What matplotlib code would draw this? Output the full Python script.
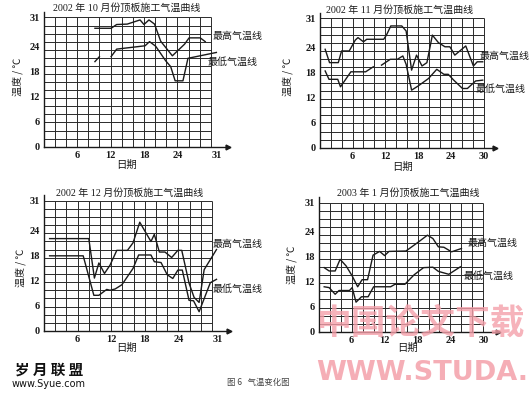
import numpy as np
import matplotlib
matplotlib.use("Agg")
import matplotlib.pyplot as plt

plt.rcParams['font.family'] = ['Liberation Serif', 'Noto Sans CJK SC', 'DejaVu Sans']

nan = np.nan

# ---- data (vertices) ----
titles = ["2002 年 10 月份顶板施工气温曲线", "2002 年 11 月份顶板施工气温曲线",
          "2002 年 12 月份顶板施工气温曲线", "2003 年 1 月份顶板施工气温曲线"]
x_ticks = [[6, 12, 18, 24, 31], [6, 12, 18, 24, 30], [6, 12, 18, 24, 31], [6, 12, 18, 24, 30]]
y_ticks = [0, 6, 12, 18, 24, 31]
label_max = "最高气温线"
label_min = "最低气温线"
y_label = "温度 / ℃"
x_label = "日期"

oct_max_day = [9.2, 12.1, 13.1, 15.0, 17.3, 18.0, 18.9, 19.9, 21.0, 23.1, 25.3, 26.1, 28.1, 29.0]
oct_max_val = [28.4, 28.4, 29.3, 29.4, 30.4, 29.3, 30.4, 29.4, 25.3, 21.8, 24.6, 26.1, 26.1, 25.2]
oct_min_day = [9.2, 10.0, 11.0, 12.1, 13.1, 18.2, 19.0, 20.1, 21.9, 22.8, 23.6, 25.0, 25.9, 31.0]
oct_min_val = [20.4, 21.6, nan, 21.6, 23.4, 24.2, 25.2, 24.1, 20.6, 19.2, 15.8, 15.8, 21.2, 22.6]

nov_max_day = [1.0, 1.8, 3.4, 4.0, 5.4, 6.5, 7.0, 8.0, 8.6, 11.7, 12.2, 13.0, 15.0, 15.8, 16.8,
               17.7, 18.7, 19.6, 20.6, 21.7, 22.9, 23.8, 24.7, 26.7, 28.1, 28.8, 29.8]
nov_max_val = [23.6, 20.4, 20.4, 23.2, 23.2, 25.8, 26.4, 25.4, 26.0, 26.0, 27.0, 29.2, 29.2, 28.0, 18.6,
               22.2, 19.6, 20.4, 27.0, 25.2, 24.2, 24.2, 22.2, 24.4, 19.6, 20.6, 20.6]
nov_min_day = [1.0, 1.7, 3.3, 3.8, 5.7, 8.4, 9.8, 10.5, 11.3, 12.9, 14.2, 15.2, 15.8, 16.8, 18.0,
               19.9, 21.4, 22.7, 23.5, 24.5, 26.1, 27.0, 28.5, 29.8]
nov_min_val = [18.4, 16.4, 16.4, 14.6, 18.2, 18.2, 19.4, nan, 19.8, 21.2, 21.2, 22.0, 20.0, 13.8, 14.8,
               16.6, 18.8, 17.6, 17.6, 16.2, 14.2, 14.2, 16.0, 16.2]

dec_max_day = [1.0, 8.0, 9.0, 9.8, 10.8, 11.8, 13.0, 14.9, 15.9, 17.1, 19.1, 19.7, 20.6, 21.6, 22.8,
               23.9, 24.6, 25.9, 26.8, 27.7, 28.6, 30.8]
dec_max_val = [22.0, 22.0, 12.6, 16.2, 13.7, 15.7, 19.2, 19.2, 21.0, 25.9, 21.3, 23.0, 18.8, 18.8, 17.5,
               19.2, 19.2, 11.4, 8.0, 6.8, 14.6, 19.4]
dec_min_day = [1.0, 7.0, 8.9, 9.8, 11.2, 11.8, 12.7, 13.9, 15.9, 16.9, 19.1, 19.7, 20.9, 22.0, 23.0,
               23.9, 24.7, 25.9, 26.7, 27.7, 29.7, 30.8]
dec_min_val = [17.9, 17.9, 8.5, 8.5, 9.9, 9.7, 10.0, 11.0, 14.9, 18.1, 18.1, 16.5, 16.3, 13.4, 12.5,
               14.5, 14.5, 7.3, 7.2, 4.6, 11.5, 12.3]

jan_max_day = [1.0, 1.9, 3.0, 3.9, 5.0, 6.1, 7.1, 7.9, 8.9, 9.9, 11.1, 12.0, 12.8, 15.9, 18.1, 19.8,
               20.8, 21.8, 22.8, 24.2, 26.0]
jan_max_val = [15.4, 14.6, 14.6, 17.4, 15.8, 13.4, 10.8, 12.5, 12.5, 18.4, 19.3, 18.3, 19.3, 19.4, 21.5, 23.2,
               22.4, 20.4, 20.3, 19.2, 20.0]
jan_min_day = [1.0, 1.9, 3.0, 3.7, 5.6, 6.1, 6.8, 7.8, 9.0, 10.0, 13.1, 13.9, 15.7, 17.4, 19.1, 20.8,
               21.8, 23.7, 25.8]
jan_min_val = [10.8, 10.6, 9.0, 9.9, 9.9, 10.6, 7.1, 8.4, 8.4, 10.8, 10.8, 11.4, 11.4, 13.7, 15.4, 15.5,
               14.5, 13.8, 15.6]

series = [(oct_max_day, oct_max_val, oct_min_day, oct_min_val),
          (nov_max_day, nov_max_val, nov_min_day, nov_min_val),
          (dec_max_day, dec_max_val, dec_min_day, dec_min_val),
          (jan_max_day, jan_max_val, jan_min_day, jan_min_val)]

# ---- layout (pixel geometry) ----
W, H = 530, 396
# x px of day 0, y px of temp 0, px per day, px per degree, x max
geo = [(43.7, 146.7, 5.57, 4.17, 33.0),
       (319.7, 147.7, 5.47, 4.17, 32.0),
       (44.0, 331.0, 5.60, 4.20, 33.0),
       (318.7, 331.7, 5.49, 4.16, 32.6)]
YMAX = 32.4
title_pos = [(127, 8), (400, 10), (130, 193), (408, 193)]
ylab_pos = [(18, 77), (288, 77), (21, 268), (292, 265)]
xlab_pos = [(127, 165), (403, 167), (127, 348), (408, 348)]
lab_max_pos = [(213, 36), (480, 56), (213, 244), (468, 243)]
lab_min_pos = [(208, 62), (476, 89), (213, 289), (464, 276)]

fig = plt.figure(figsize=(W / 100, H / 100), dpi=100)
ink = '#1a1a1a'
cjk = ['Noto Sans CJK SC', 'DejaVu Sans']

for i in range(4):
    x0, yb, ppd, ppt, xmax = geo[i]
    ax = fig.add_axes([x0 / W, (H - yb) / H, xmax * ppd / W, YMAX * ppt / H])
    ax.set_xlim(0, xmax)
    ax.set_ylim(0, YMAX)
    for s in ['top', 'right']:
        ax.spines[s].set_visible(False)
    for s in ['left', 'bottom']:
        ax.spines[s].set_color(ink)
        ax.spines[s].set_linewidth(1.0)
    # grid
    ax.vlines(np.arange(2, 31, 2), 0, 31, color='#2a2a2a', lw=0.7, zorder=1)
    ax.hlines(np.linspace(0, 31, 17)[1:], 0, 30, color='#2a2a2a', lw=0.7, zorder=1)
    ax.plot(1, 0, '>', color=ink, ms=3.5, transform=ax.get_yaxis_transform(), clip_on=False)
    # data
    mxd, mxv, mnd, mnv = series[i]
    ax.plot(mxd, mxv, color=ink, lw=1.0, zorder=3, clip_on=False)
    ax.plot(mnd, mnv, color=ink, lw=1.0, zorder=3, clip_on=False)
    ax.set_xticks(x_ticks[i])
    ax.set_yticks(y_ticks)
    ax.tick_params(length=0, labelsize=7.5, pad=3, colors=ink)
    for lab in ax.get_xticklabels() + ax.get_yticklabels():
        lab.set_fontweight('bold')

    fig.text(title_pos[i][0] / W, 1 - title_pos[i][1] / H, titles[i], ha='center', va='center',
             fontsize=7.2, color=ink)
    fig.text(ylab_pos[i][0] / W, 1 - ylab_pos[i][1] / H, y_label, ha='center', va='center',
             rotation=90, fontsize=7.2, color=ink, family=cjk)
    fig.text(xlab_pos[i][0] / W, 1 - xlab_pos[i][1] / H, x_label, ha='center', va='center',
             fontsize=7.5, color=ink, family=cjk)
    fig.text(lab_max_pos[i][0] / W, 1 - lab_max_pos[i][1] / H, label_max, ha='left', va='center',
             fontsize=7.2, color=ink, family=cjk)
    fig.text(lab_min_pos[i][0] / W, 1 - lab_min_pos[i][1] / H, label_min, ha='left', va='center',
             fontsize=7.2, color=ink, family=cjk)

# bottom texts / watermarks
pink = '#f4a0aa'
fig.text(421 / W, 1 - 323 / H, "中国论文下载", ha='center', va='center', fontsize=25,
         fontweight='bold', color=pink, alpha=0.8, family=cjk, zorder=10)
fig.text(422 / W, 1 - 373 / H, "WWW.STUDA.", ha='center', va='center', fontsize=19.5,
         fontweight='bold', color=pink, alpha=0.85, family=['DejaVu Sans'], zorder=10)
fig.text(258 / W, 1 - 382 / H, "图 6   气温变化图", ha='center', va='center', fontsize=6,
         color='#444444', family=cjk)
fig.text(49 / W, 1 - 370 / H, "岁 月 联 盟", ha='center', va='center', fontsize=10.5,
         fontweight='bold', color='#111111', family=cjk)
fig.text(49 / W, 1 - 384 / H, "www.Syue.com", ha='center', va='center', fontsize=7,
         color='#111111', family=['DejaVu Sans'])

fig.savefig("out.png", dpi=100)
